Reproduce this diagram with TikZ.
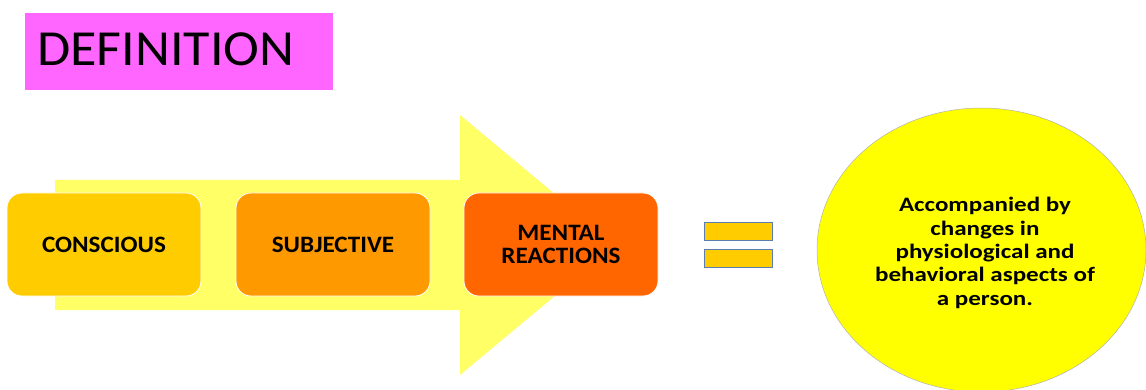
\documentclass[tikz,border=0pt]{standalone}
\usepackage{fontspec}
\setmainfont{Carlito}[FakeStretch=1.07]
\newfontfamily\ovalfont{Carlito}[FakeStretch=1.22]
\usetikzlibrary{shapes.geometric}
\definecolor{defpink}{HTML}{FF66FF}
\definecolor{arrowyellow}{HTML}{FFFF66}
\definecolor{gold}{HTML}{FFCC00}
\definecolor{amber}{HTML}{FF9900}
\definecolor{deeporange}{HTML}{FF6600}
\definecolor{barline}{HTML}{5B7DB0}
\definecolor{ovalyellow}{HTML}{FFFF00}
\tikzset{
  stage/.style={rounded corners=15pt, draw=white, line width=0.8pt,
    minimum width=194pt, minimum height=103pt, inner sep=0pt,
    align=center, font=\fontsize{23.5}{22.5}\selectfont\bfseries},
  eqbar/.style={fill=gold, draw=barline, line width=0.8pt,
    minimum width=68pt, minimum height=18pt, inner sep=0pt},
}
\begin{document}
\begin{tikzpicture}[x=1pt, y=-1pt]
  \useasboundingbox (0,0) rectangle (1146,390);
  % title
  \node[fill=defpink, minimum width=308pt, minimum height=77pt, inner sep=0pt,
        anchor=north west] (title) at (25,13) {};
  \node[anchor=west, font=\fontsize{50.5}{52}\selectfont, inner sep=0pt] (titletext)
        at (37,49) {DEFINITION};
  % big background arrow
  \fill[arrowyellow] (55,180) -- (460,180) -- (460,115) -- (616,245)
        -- (460,375) -- (460,310) -- (55,310) -- cycle;
  % the three stages
  \node[stage, fill=gold] (conscious) at (104,244.5) {CONSCIOUS};
  \node[stage, fill=amber] (subjective) at (333,244.5) {SUBJECTIVE};
  \node[stage, fill=deeporange] (mental) at (561,244.5) {MENTAL\\REACTIONS};
  % equals sign
  \node[eqbar] (bartop) at (738,231) {};
  \node[eqbar] (barbottom) at (738,258.5) {};
  % result oval
  \node[ellipse, fill=ovalyellow, draw=black!30, line width=0.5pt,
        minimum width=329pt, minimum height=284pt, inner sep=0pt] (oval) at (981.5,250) {};
  \node[align=center, font=\ovalfont\fontsize{20.5}{23.3}\selectfont\bfseries] (ovaltext) at (985,253)
        {Accompanied by\\changes in\\physiological and\\behavioral aspects of\\a person.};
\end{tikzpicture}
\end{document}
